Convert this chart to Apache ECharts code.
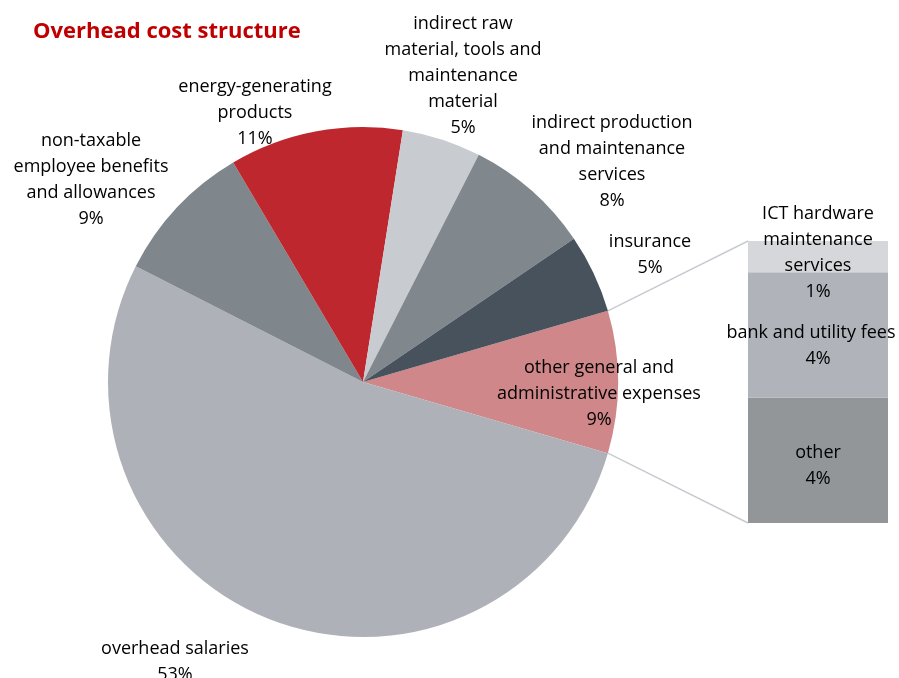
<!DOCTYPE html>
<html>
<head>
<meta charset="utf-8">
<script src="https://cdn.jsdelivr.net/npm/echarts@6/dist/echarts.min.js"></script>
<style>
  html, body { margin: 0; padding: 0; background: #fff; }
  #chart { width: 899px; height: 678px; }
</style>
</head>
<body>
<div id="chart"></div>
<script>
// Overhead cost structure: main pie, with the "other general and administrative
// expenses" slice broken down in a stacked column on the right.
const pieNames = [
  'other general and\nadministrative expenses',
  'overhead salaries',
  'non-taxable\nemployee benefits\nand allowances',
  'energy-generating\nproducts',
  'indirect raw\nmaterial, tools and\nmaintenance\nmaterial',
  'indirect production\nand maintenance\nservices',
  'insurance'
];
const pieValues = [9, 53, 9, 11, 5, 8, 5];
const pieColors = ['#CF8789', '#AEB1B8', '#7F868C', '#BE272E', '#C8CBD0', '#80878D', '#48525C'];

// Breakdown of the first pie slice, listed bottom to top
const barNames = ['other', 'bank and utility fees', 'ICT hardware\nmaintenance\nservices'];
const barValues = [4, 4, 1];
const barColors = ['#929699', '#B0B3B9', '#D5D7DA'];

const FONT = '"Open Sans", Lato, sans-serif';
const FS = 18;
const PIE_CX = 363, PIE_CY = 382, PIE_R = 255;
const total = pieValues.reduce((a, b) => a + b, 0);
// first slice is centred on the horizontal axis
const startAngle = pieValues[0] / total * 180;

// label anchor points (centre of each text block)
const pieLabelPos = [
  [599, 394], [175, 662], [91, 180], [255, 113], [463, 76], [612, 162], [650, 255]
];
// vertical nudge of each column label, and extra right padding on its name line
const barLabelShift = [6, 11, -4];
const barNamePad = [0, 14, 0];

const chart = echarts.init(document.getElementById('chart'));

const barSeries = barNames.map((name, i) => ({
  type: 'bar',
  name: name,
  stack: 'breakdown',
  barWidth: '100%',
  data: [barValues[i]],
  itemStyle: { color: barColors[i] },
  label: {
    show: true,
    position: 'inside',
    offset: [0, barLabelShift[i]],
    formatter: p => p.seriesName.split('\n').map(s => '{n|' + s + '}').join('\n') + '\n{v|' + p.value + '%}',
    color: '#000',
    fontFamily: FONT,
    fontSize: FS,
    lineHeight: 26,
    overflow: 'none',
    rich: {
      n: { fontFamily: FONT, fontSize: FS, lineHeight: 26, color: '#000', padding: [0, barNamePad[i], 0, 0] },
      v: { fontFamily: FONT, fontSize: FS, lineHeight: 26, color: '#000' }
    }
  }
}));

chart.setOption({
  animation: false,
  backgroundColor: '#fff',
  title: {
    text: 'Overhead cost structure',
    left: 28,
    top: 16,
    textStyle: { color: '#C00000', fontFamily: FONT, fontWeight: 'bold', fontSize: 22 }
  },
  grid: { left: 748, top: 241, width: 140, height: 282 },
  xAxis: { type: 'category', data: ['breakdown'], show: false },
  yAxis: { type: 'value', min: 0, max: 9, show: false },
  series: [
    {
      type: 'pie',
      center: [PIE_CX, PIE_CY],
      radius: [0, PIE_R],
      startAngle: startAngle,
      clockwise: true,
      data: pieNames.map((n, i) => ({ name: n, value: pieValues[i], itemStyle: { color: pieColors[i] } })),
      label: {
        show: true,
        position: 'outside',
        formatter: '{b}\n{c}%',
        color: '#000',
        fontFamily: FONT,
        fontSize: FS,
        lineHeight: 26,
        align: 'center',
        overflow: 'none',
        width: 400
      },
      labelLine: { show: false },
      labelLayout: p => ({
        x: pieLabelPos[p.dataIndex][0],
        y: pieLabelPos[p.dataIndex][1],
        align: 'center',
        verticalAlign: 'middle'
      }),
      emphasis: { disabled: true }
    },
    ...barSeries
  ]
});

// connector lines from the edges of the first slice to the column corners
const a0 = startAngle * Math.PI / 180;
const topEdge = [PIE_CX + PIE_R * Math.cos(a0), PIE_CY - PIE_R * Math.sin(a0)];
const botEdge = [PIE_CX + PIE_R * Math.cos(a0), PIE_CY + PIE_R * Math.sin(a0)];
const colTop = chart.convertToPixel({ gridIndex: 0 }, [0, barValues.reduce((a, b) => a + b, 0)]);
const colBot = chart.convertToPixel({ gridIndex: 0 }, [0, 0]);
const colLeft = 748;
chart.setOption({
  graphic: [
    { type: 'line', shape: { x1: topEdge[0], y1: topEdge[1], x2: colLeft, y2: colTop[1] },
      style: { stroke: '#C8CBD0', lineWidth: 1.5 }, z: -1 },
    { type: 'line', shape: { x1: botEdge[0], y1: botEdge[1], x2: colLeft, y2: colBot[1] },
      style: { stroke: '#C8CBD0', lineWidth: 1.5 }, z: -1 }
  ]
});
</script>
</body>
</html>
